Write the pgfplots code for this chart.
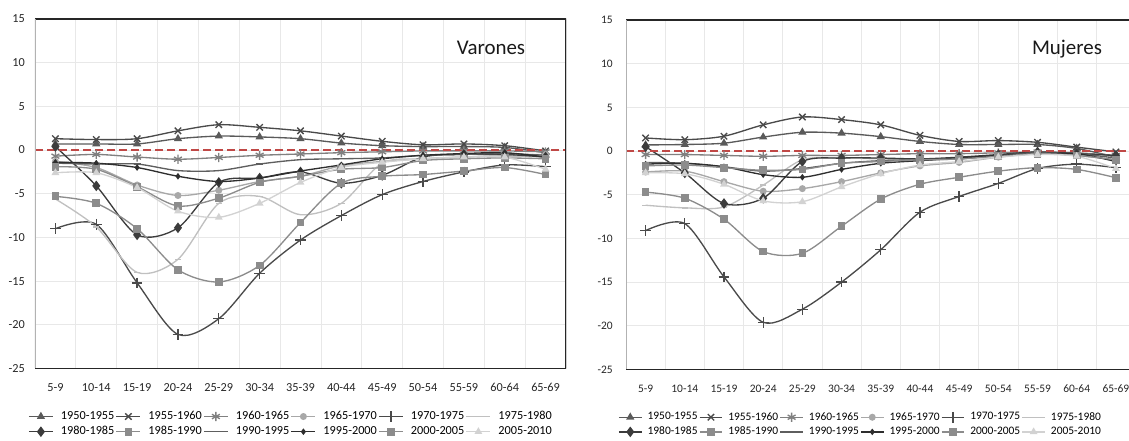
\documentclass[border=0pt]{standalone}
\usepackage{pgfplots}
\pgfplotsset{compat=1.18}
\usepackage{pgfplotstable}
\usepackage{fontspec}
\setmainfont{Carlito}

\definecolor{g1}{HTML}{5A5A5A}
\definecolor{g2}{HTML}{4A4A4A}
\definecolor{g3}{HTML}{808080}
\definecolor{g4}{HTML}{A8A8A8}
\definecolor{g5}{HTML}{4A4A4A}
\definecolor{g6}{HTML}{C0C0C0}
\definecolor{g7}{HTML}{3C3C3C}
\definecolor{g8}{HTML}{8C8C8C}
\definecolor{g9}{HTML}{5E5E5E}
\definecolor{g10}{HTML}{2E2E2E}
\definecolor{g11}{HTML}{8C8C8C}
\definecolor{g12}{HTML}{D2D2D2}
\definecolor{zero}{RGB}{192,72,70}

% columns: x, 1950-55 ... 2005-10
\pgfplotstableread{
x s1 s2 s3 s4 s5 s6 s7 s8 s9 s10 s11 s12
0 0.7 1.3 -0.7 -1.3 -9.0 -5.6 0.4 -5.3 -1.5 -1.4 -1.9 -2.6
1 0.7 1.2 -0.5 -2.0 -8.5 -8.8 -4.1 -6.1 -1.6 -1.5 -2.2 -2.6
2 0.7 1.3 -0.8 -4.0 -15.2 -14.0 -9.7 -9.0 -1.6 -2.0 -4.2 -4.3
3 1.3 2.2 -1.05 -5.2 -21.1 -12.5 -8.9 -13.7 -2.35 -3.0 -6.4 -7.0
4 1.6 2.9 -0.85 -4.6 -19.3 -6.1 -3.7 -15.1 -2.35 -3.6 -5.5 -7.7
5 1.5 2.6 -0.6 -3.6 -14.1 -5.3 -3.2 -13.2 -1.6 -3.2 -3.7 -6.1
6 1.3 2.2 -0.45 -3.0 -10.3 -7.4 -2.5 -8.3 -1.1 -2.4 -3.0 -3.7
7 0.8 1.6 -0.3 -1.8 -7.5 -6.1 -3.8 -3.8 -1.0 -1.7 -2.2 -2.0
8 0.5 1.0 -0.2 -1.3 -5.1 -1.5 -2.9 -3.0 -0.9 -1.0 -2.0 -1.4
9 0.4 0.6 -0.1 -1.0 -3.6 -1.0 -0.8 -2.8 -0.6 -0.6 -1.2 -1.0
10 0.4 0.7 -0.1 -0.8 -2.5 -0.8 -0.5 -2.4 -0.5 -0.4 -1.0 -0.8
11 0.3 0.5 -0.1 -0.6 -1.7 -0.7 -0.5 -2.0 -0.4 -0.3 -0.9 -0.8
12 -0.3 -0.1 -0.2 -0.5 -1.9 -0.8 -0.8 -2.8 -0.6 -0.8 -1.0 -2.2
}\varones

\pgfplotstableread{
x s1 s2 s3 s4 s5 s6 s7 s8 s9 s10 s11 s12
0 0.7 1.5 -0.4 -2.4 -9.1 -6.2 0.5 -4.7 -1.3 -1.5 -1.7 -2.5
1 0.75 1.3 -0.4 -2.3 -8.3 -6.5 -2.5 -5.4 -1.4 -1.4 -1.6 -2.6
2 0.9 1.7 -0.5 -3.5 -14.4 -6.4 -6.0 -7.8 -1.8 -1.8 -1.9 -3.8
3 1.6 3.0 -0.6 -4.6 -19.6 -3.9 -5.4 -11.5 -2.3 -2.7 -2.2 -5.7
4 2.15 3.9 -0.5 -4.3 -18.1 -1.0 -1.2 -11.7 -2.0 -3.0 -2.1 -5.8
5 2.05 3.6 -0.5 -3.5 -15.0 -0.8 -0.8 -8.6 -1.4 -2.1 -1.4 -4.1
6 1.65 3.0 -0.4 -2.5 -11.3 -0.9 -0.8 -5.5 -1.1 -1.4 -1.2 -2.6
7 1.1 1.8 -0.3 -1.7 -7.0 -1.0 -0.9 -3.8 -1.0 -1.1 -1.0 -1.6
8 0.75 1.1 -0.3 -1.3 -5.2 -0.9 -0.7 -3.0 -0.9 -0.8 -0.9 -1.2
9 0.75 1.2 -0.2 -0.7 -3.7 -0.5 -0.4 -2.3 -0.5 -0.5 -0.6 -0.7
10 0.75 1.0 -0.1 -0.3 -2.0 -0.2 -0.1 -1.9 -0.2 -0.3 -0.3 -0.4
11 0.3 0.45 -0.2 -0.5 -1.5 -0.5 -0.3 -2.1 -0.3 -0.3 -0.5 -0.6
12 -0.7 -0.1 -0.5 -1.0 -1.9 -1.0 -0.5 -3.05 -0.8 -1.2 -1.0 -2.0
}\mujeres

\pgfplotsset{
  s1/.style={color=g1, mark=triangle*, mark size=2.6pt},
  s2/.style={color=g2, mark=x, mark size=3.4pt},
  s3/.style={color=g3, mark=asterisk, mark size=3.4pt},
  s4/.style={color=g4, mark=*, mark size=2.1pt},
  s5/.style={color=g5, mark=+, mark size=4pt},
  s6/.style={color=g6, mark=-, mark size=2.4pt, every mark/.append style={line width=1.6pt}},
  s7/.style={color=g7, mark=diamond*, mark size=3.2pt},
  s8/.style={color=g8, mark=square*, mark size=2.4pt},
  s9/.style={color=g9, mark=-, mark size=2.6pt, every mark/.append style={line width=1.8pt}},
  s10/.style={color=g10, mark=diamond*, mark size=1.7pt},
  s11/.style={color=g11, mark=square*, mark size=2.4pt},
  s12/.style={color=g12, mark=triangle*, mark size=2.4pt},
  panel/.style={
    scale only axis,
    xmin=-0.5, xmax=12.5, ymin=-25, ymax=15,
    xtick={0,...,12},
    xticklabels={5-9,10-14,15-19,20-24,25-29,30-34,35-39,40-44,45-49,50-54,55-59,60-64,65-69},
    ytick={-25,-20,...,15},
    minor xtick={-0.5,0.5,...,12.5},
    xminorgrids=true, ymajorgrids=true, xmajorgrids=false,
    grid style={draw=black!9, line width=0.6pt},
    minor grid style={draw=black!9, line width=0.6pt},
    major tick length=0pt, minor tick length=0pt,
    axis line style={draw=none},
    /pgf/number format/assume math mode=true,
    tick label style={text=black!85},
    yticklabel style={anchor=east, inner sep=0pt, xshift=-7.5pt},
    xticklabel style={anchor=base, inner sep=0pt, yshift=-17.6pt},
    legend columns=6,
    legend cell align=left,
    every axis plot/.append style={line width=1pt, smooth, tension=0.5},
    every mark/.append style={solid},
  },
}

\begin{document}
\begin{tikzpicture}[x=0.75pt,y=0.75pt]
\useasboundingbox (0,0) rectangle (1129,441);
\coordinate (L) at (35,72.5);
\coordinate (R) at (626,71.5);

% ---------------- Varones ----------------
\begin{axis}[panel,
  at={(L)}, anchor=south west,
  width=398.25pt, height=262.125pt,
  tick label style={font=\fontsize{9.2}{11}\selectfont},
  legend style={at={(-0.0132,-0.118)}, anchor=north west,
    draw=none, fill=none, inner sep=0pt, row sep=1.6pt,
    font=\fontsize{9.2}{11}\selectfont,
    nodes={inner sep=1pt},
    /tikz/every odd column/.append style={column sep=4.5pt}},
  legend image code/.code={\draw[mark repeat=2,mark phase=2] plot coordinates {(0pt,0pt) (9pt,0pt) (18pt,0pt)};},
]
\addplot[s1] table[x=x,y=s1] {\varones};
\addplot[s2] table[x=x,y=s2] {\varones};
\addplot[s3] table[x=x,y=s3] {\varones};
\addplot[s4] table[x=x,y=s4] {\varones};
\addplot[s5] table[x=x,y=s5] {\varones};
\addplot[s6] table[x=x,y=s6] {\varones};
\addplot[s7] table[x=x,y=s7] {\varones};
\addplot[s8] table[x=x,y=s8] {\varones};
\addplot[s9] table[x=x,y=s9] {\varones};
\addplot[s10] table[x=x,y=s10] {\varones};
\addplot[s11] table[x=x,y=s11] {\varones};
\addplot[s12] table[x=x,y=s12] {\varones};
\addplot[forget plot, color=zero, line width=1.6pt, dash pattern=on 6pt off 3pt, no marks, sharp plot] coordinates {(-0.5,0) (12.5,0)};
\legend{1950-1955,1955-1960,1960-1965,1965-1970,1970-1975,1975-1980,1980-1985,1985-1990,1990-1995,1995-2000,2000-2005,2005-2010}
\draw[black!85, line width=0.9pt] (rel axis cs:0,1) -- (rel axis cs:1,1) -- (rel axis cs:1,0) -- (rel axis cs:0,0);
\draw[black!30, line width=0.9pt] (rel axis cs:0,0) -- (rel axis cs:0,1);
\end{axis}

% ---------------- Mujeres ----------------
\begin{axis}[panel,
  at={(R)}, anchor=south west,
  width=382.125pt, height=262.125pt,
  tick label style={font=\fontsize{8.6}{10.3}\selectfont},
  yticklabel style={xshift=-2.2pt},
  legend style={at={(-0.0157,-0.118)}, anchor=north west,
    draw=none, fill=none, inner sep=0pt, row sep=1.6pt,
    font=\fontsize{8.6}{10.3}\selectfont,
    nodes={inner sep=1pt},
    /tikz/every odd column/.append style={column sep=3pt}},
  legend image code/.code={\draw[mark repeat=2,mark phase=2] plot coordinates {(0pt,0pt) (8.5pt,0pt) (17pt,0pt)};},
]
\addplot[s1] table[x=x,y=s1] {\mujeres};
\addplot[s2] table[x=x,y=s2] {\mujeres};
\addplot[s3] table[x=x,y=s3] {\mujeres};
\addplot[s4] table[x=x,y=s4] {\mujeres};
\addplot[s5] table[x=x,y=s5] {\mujeres};
\addplot[s6] table[x=x,y=s6] {\mujeres};
\addplot[s7] table[x=x,y=s7] {\mujeres};
\addplot[s8] table[x=x,y=s8] {\mujeres};
\addplot[s9] table[x=x,y=s9] {\mujeres};
\addplot[s10] table[x=x,y=s10] {\mujeres};
\addplot[s11] table[x=x,y=s11] {\mujeres};
\addplot[s12] table[x=x,y=s12] {\mujeres};
\addplot[forget plot, color=zero, line width=1.6pt, dash pattern=on 6pt off 3pt, no marks, sharp plot] coordinates {(-0.5,0) (12.5,0)};
\legend{1950-1955,1955-1960,1960-1965,1965-1970,1970-1975,1975-1980,1980-1985,1985-1990,1990-1995,1995-2000,2000-2005,2005-2010}
\draw[black!85, line width=0.9pt] (rel axis cs:0,1) -- (rel axis cs:1,1) -- (rel axis cs:1,0) -- (rel axis cs:0,0);
\draw[black!30, line width=0.9pt] (rel axis cs:0,0) -- (rel axis cs:0,1);
\end{axis}

\node[anchor=base, font=\fontsize{15.7}{18}\selectfont, text=black!90] at (491,386) {Varones};
\node[anchor=base, font=\fontsize{15.7}{18}\selectfont, text=black!90] at (1067,386) {Mujeres};
\end{tikzpicture}
\end{document}
